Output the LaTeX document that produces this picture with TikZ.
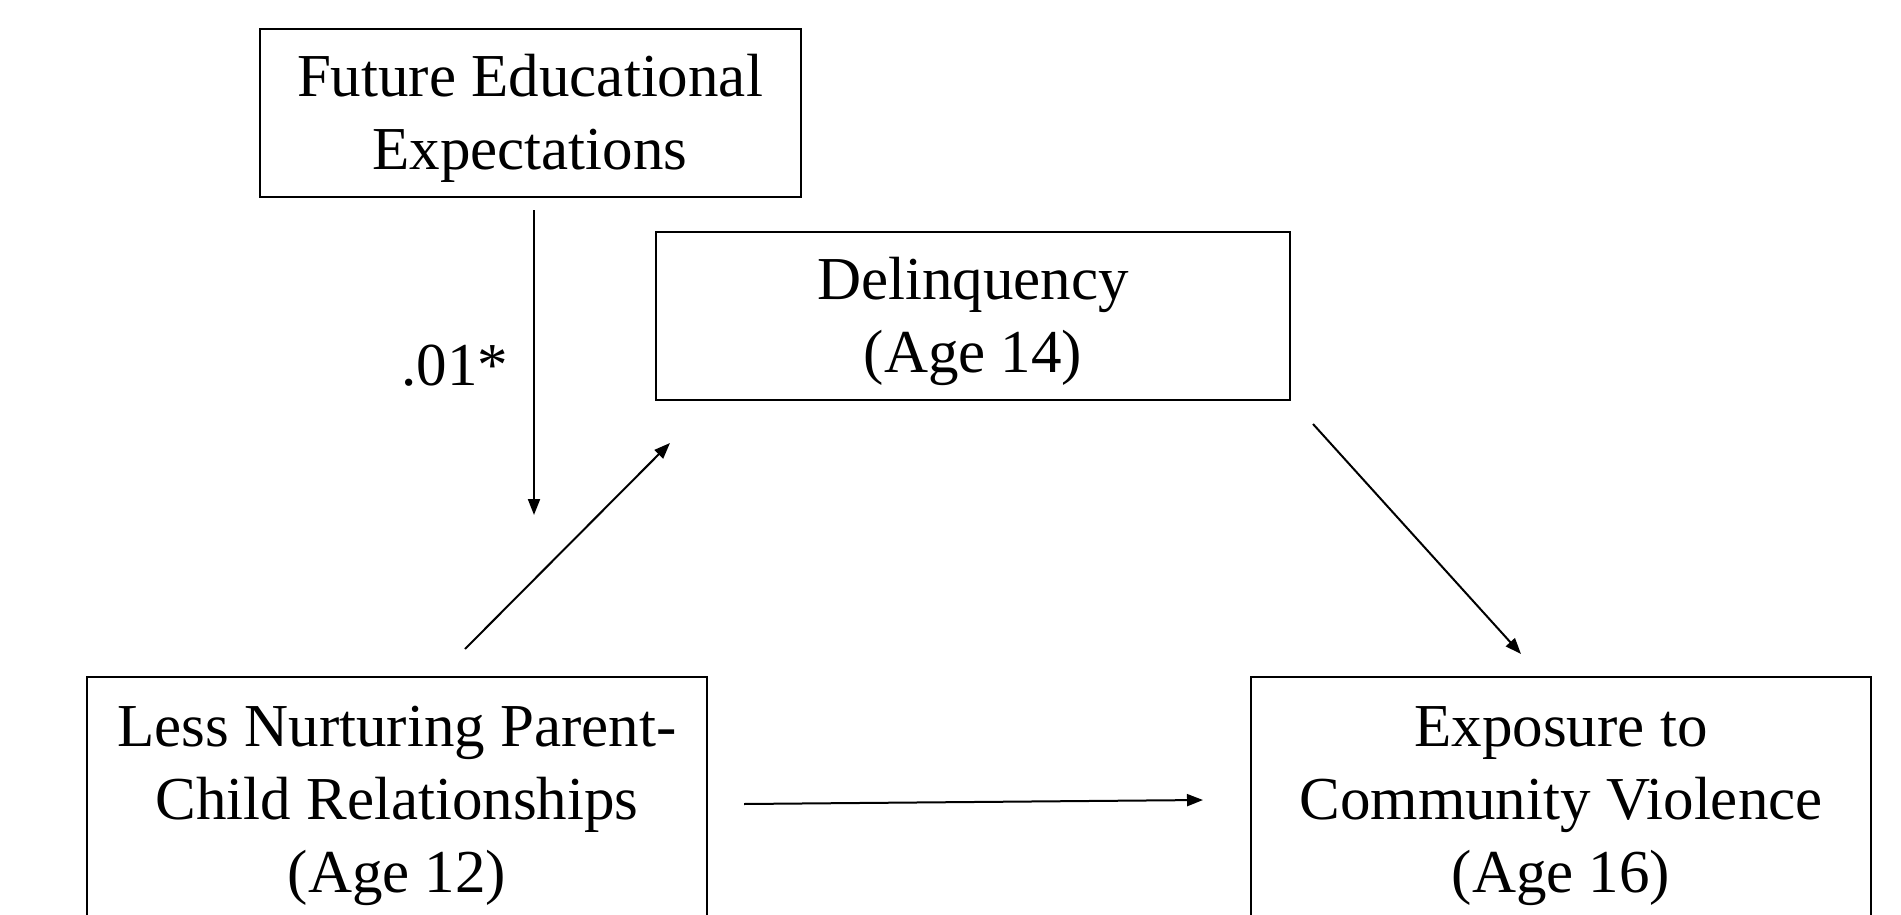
\documentclass[tikz,border=0pt]{standalone}
\usepackage{fontspec}
\setmainfont{Liberation Serif}
\usetikzlibrary{arrows.meta,calc}
\newcommand{\topgap}{\rule{0pt}{53pt}}
\begin{document}
\begin{tikzpicture}[x=1pt,y=-1pt,
  box/.style={draw,line width=2pt,rectangle,align=center,inner sep=0pt,
    font=\fontsize{61}{73}\selectfont},
  arr/.style={line width=2pt,-{Triangle[length=16pt,width=12pt]}},
  lbl/.style={font=\fontsize{61}{73}\selectfont,inner sep=0pt}]
\useasboundingbox (0,0) rectangle (1901,915);
\node[box,minimum width=541pt,minimum height=168pt] (fee) at (530,113) {\topgap Future Educational\\Expectations};
\node[box,minimum width=634pt,minimum height=168pt] (del) at (973,316) {\topgap Delinquency\\(Age 14)};
\node[box,minimum width=620pt,minimum height=246pt] (ln) at (397,800) {\topgap Less Nurturing Parent-\\Child Relationships\\(Age 12)};
\node[box,minimum width=620pt,minimum height=246pt] (ex) at (1561,800) {\topgap Exposure to\\Community Violence\\(Age 16)};
\coordinate (mod) at ($(fee.south)+(4,317)$);
\draw[arr] ($(fee.south)+(4,12)$) -- (mod);
\node[lbl,anchor=base] (w) at (455,385) {.01*};
\draw[arr] ($(ln.north)+(68,-27)$) -- ($(del.south west)+(15,42)$);
\draw[arr] ($(del.south east)+(22,23)$) -- ($(ex.north)+(-40,-22)$);
\draw[arr] ($(ln.east)+(36,4)$) -- ($(ex.west)+(-47,0)$);
\end{tikzpicture}
\end{document}
